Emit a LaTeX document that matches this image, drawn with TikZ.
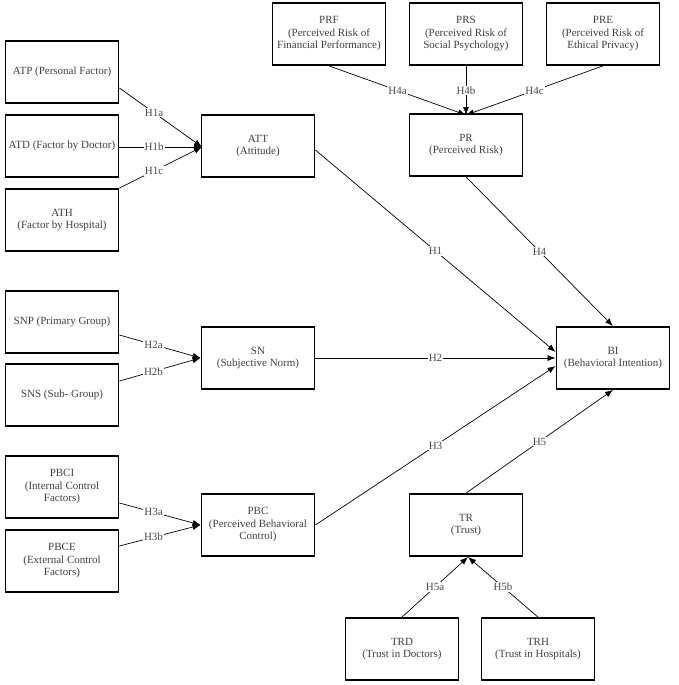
\documentclass[tikz,border=0pt]{standalone}
\usepackage{fontspec}
\setmainfont{Liberation Serif}
\usetikzlibrary{arrows.meta}
\begin{document}
\begin{tikzpicture}[x=1pt,y=-1pt,
  box/.style={draw,line width=1.8pt,minimum width=113pt,minimum height=62pt,
    align=center,font=\fontsize{11}{12.5}\selectfont,text=black!75,inner sep=1pt},
  arr/.style={-{Latex[length=8pt,width=6pt]},line width=0.7pt},
  lab/.style={fill=white,inner sep=1pt,font=\fontsize{11}{12}\selectfont,text=black!70}]
\useasboundingbox (0,0) rectangle (679,685);
% left column
\node[box] (atp) at (62,72) {ATP (Personal Factor)};
\node[box] (atd) at (62,146) {ATD (Factor by Doctor)};
\node[box] (ath) at (62,220) {ATH\\(Factor by Hospital)};
\node[box] (snp) at (62,322) {SNP (Primary Group)};
\node[box] (sns) at (62,395) {SNS (Sub- Group)};
\node[box] (pbci) at (62,487) {PBCI\\(Internal Control\\Factors)};
\node[box] (pbce) at (62,561) {PBCE\\(External Control\\Factors)};
% middle
\node[box] (att) at (258,146) {ATT\\(Attitude)};
\node[box] (sn) at (258,358) {SN\\(Subjective Norm)};
\node[box] (pbc) at (258,525) {PBC\\(Perceived Behavioral\\Control)};
% top
\node[box] (prf) at (329,34) {PRF\\(Perceived Risk of\\Financial Performance)};
\node[box] (prs) at (466,34) {PRS\\(Perceived Risk of\\Social Psychology)};
\node[box] (pre) at (603,34) {PRE\\(Perceived Risk of\\Ethical Privacy)};
\node[box] (pr) at (466,145) {PR\\(Perceived Risk)};
\node[box] (bi) at (613,358) {BI\\(Behavioral Intention)};
\node[box] (tr) at (466,525) {TR\\(Trust)};
\node[box] (trd) at (402,649) {TRD\\(Trust in Doctors)};
\node[box] (trh) at (538,649) {TRH\\(Trust in Hospitals)};
% anchors
\coordinate (attin) at (202,147);
\coordinate (prin) at (466,115);
\coordinate (trin) at (468,557);
% connectors
\draw[arr] (atp.east|-0,88) -- node[lab,pos=0.42]{H1a} (attin);
\draw[arr] (atd.east|-0,147) -- node[lab,pos=0.42]{H1b} (attin);
\draw[arr] (ath.north east) -- node[lab,pos=0.42]{H1c} (attin);
\draw[arr] (prf.south) -- node[lab,pos=0.5]{H4a} (prin);
\draw[arr] (prs.south) -- node[lab,pos=0.5]{H4b} (prin);
\draw[arr] (pre.south) -- node[lab,pos=0.5]{H4c} (prin);
\draw[arr] (snp.east|-0,335) -- node[lab,pos=0.42]{H2a} (sn.west);
\draw[arr] (sns.east|-0,381) -- node[lab,pos=0.42]{H2b} (sn.west);
\draw[arr] (pbci.east|-0,503) -- node[lab,pos=0.42]{H3a} (pbc.west);
\draw[arr] (pbce.east|-0,546) -- node[lab,pos=0.42]{H3b} (pbc.west);
\draw[arr] (att.east|-0,150) -- node[lab,pos=0.5]{H1} (bi.west|-0,352);
\draw[arr] (pr.south) -- node[lab,pos=0.5]{H4} (bi.north);
\draw[arr] (sn.east) -- node[lab,pos=0.5]{H2} (bi.west);
\draw[arr] (pbc.east) -- node[lab,pos=0.5]{H3} (bi.west|-0,366);
\draw[arr] (tr.north) -- node[lab,pos=0.5]{H5} (bi.south);
\draw[arr] (trd.north) -- node[lab,pos=0.5]{H5a} (trin);
\draw[arr] (trh.north) -- node[lab,pos=0.5]{H5b} (trin);
\end{tikzpicture}
\end{document}
